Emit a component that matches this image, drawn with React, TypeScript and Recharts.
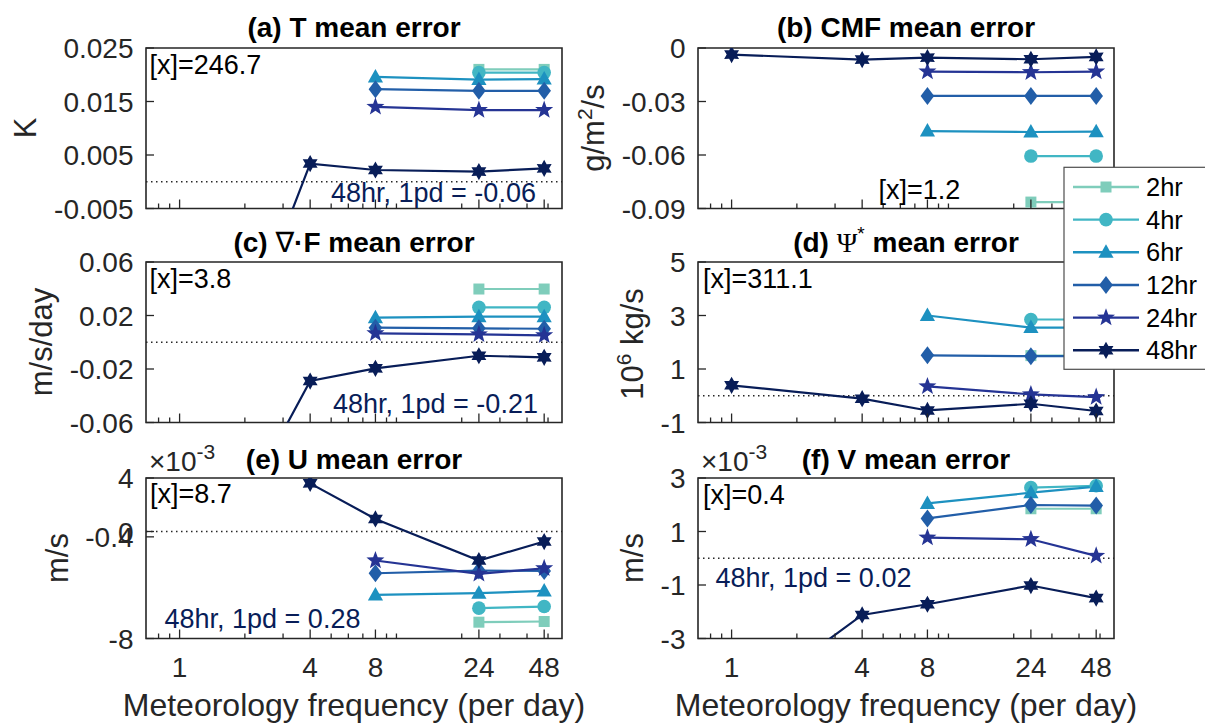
import React from 'react';
import { LineChart, Line, XAxis, YAxis, ReferenceLine, ReferenceArea } from 'recharts';

const FONT = '"Liberation Sans", Arial, Helvetica, sans-serif';
const AX = '#262626';

// ---------- shared axis data ----------
const FREQ = [1, 4, 8, 24, 48];
const X_MAJOR = [1, 4, 8, 24, 48];
const X_TICKS = [0.8, 0.9, 1, 2, 3, 4, 5, 6, 7, 8, 9, 10, 20, 24, 30, 40, 48, 50];
const X_DOMAIN: [number, number] = [0.7, 58];

const SERIES_NAMES = ['2hr', '4hr', '6hr', '12hr', '24hr', '48hr'];
const SERIES_COLORS = ['#7fcdbb', '#41b6c4', '#1d91c0', '#225ea8', '#253494', '#081d58'];
const SERIES_MARKERS = ['square', 'circle', 'triangle', 'diamond', 'pentagram', 'hexagram'];

// ---------- (a) T mean error ----------
const T_2HR = [null, null, null, 0.021, 0.021];
const T_4HR = [null, null, null, 0.0204, 0.0204];
const T_6HR = [null, null, 0.0196, 0.0191, 0.0192];
const T_12HR = [null, null, 0.0173, 0.017, 0.017];
const T_24HR = [null, null, 0.014, 0.0134, 0.0134];
const T_48HR = [-0.06, 0.0034, 0.0022, 0.0019, 0.0025];
const T_TICKS = [-0.005, 0.005, 0.015, 0.025];

// ---------- (b) CMF mean error ----------
const CMF_2HR = [null, null, null, -0.0864, -0.0864];
const CMF_4HR = [null, null, null, -0.0606, -0.0606];
const CMF_6HR = [null, null, -0.0466, -0.0471, -0.0469];
const CMF_12HR = [null, null, -0.0269, -0.0269, -0.0269];
const CMF_24HR = [null, null, -0.0132, -0.0136, -0.0132];
const CMF_48HR = [-0.0037, -0.0065, -0.0054, -0.0063, -0.005];
const CMF_TICKS = [-0.09, -0.06, -0.03, 0];

// ---------- (c) div F mean error ----------
const DIVF_2HR = [null, null, null, 0.0398, 0.0398];
const DIVF_4HR = [null, null, null, 0.0261, 0.0261];
const DIVF_6HR = [null, null, 0.0184, 0.0191, 0.0191];
const DIVF_12HR = [null, null, 0.0109, 0.0104, 0.0101];
const DIVF_24HR = [null, null, 0.0067, 0.0059, 0.0052];
const DIVF_48HR = [-0.21, -0.029, -0.0195, -0.0101, -0.0113];
const DIVF_TICKS = [-0.06, -0.02, 0.02, 0.06];

// ---------- (d) Psi* mean error ----------
const PSI_2HR = [null, null, null, 1.5, 1.5];
const PSI_4HR = [null, null, null, 2.85, 2.85];
const PSI_6HR = [null, null, 3.0, 2.55, 2.55];
const PSI_12HR = [null, null, 1.51, 1.48, 1.48];
const PSI_24HR = [null, null, 0.35, 0.05, -0.05];
const PSI_48HR = [0.39, -0.11, -0.55, -0.3, -0.57];
const PSI_TICKS = [-1, 1, 3, 5];

// ---------- (e) U mean error (x1e-3) ----------
const U_2HR = [null, null, null, -6.78, -6.73];
const U_4HR = [null, null, null, -5.73, -5.61];
const U_6HR = [null, null, -4.74, -4.61, -4.44];
const U_12HR = [null, null, -3.12, -2.92, -2.95];
const U_24HR = [null, null, -2.17, -3.17, -2.75];
const U_48HR = [280, 3.6, 0.94, -2.17, -0.75];
const U_TICKS = [-8, -0.4, 0, 4];

// ---------- (f) V mean error (x1e-3) ----------
const V_2HR = [null, null, null, 1.85, 1.85];
const V_4HR = [null, null, null, 2.64, 2.71];
const V_6HR = [null, null, 2.05, 2.45, 2.68];
const V_12HR = [null, null, 1.49, 1.99, 1.97];
const V_24HR = [null, null, 0.77, 0.71, 0.09];
const V_48HR = [-5.7, -2.12, -1.72, -1.02, -1.49];
const V_TICKS = [-3, -1, 1, 3];

// ---------- layout ----------
const LEFT_X = 146;
const RIGHT_X = 698;
const BOX_W = 416;
const BOX_H = 160.5;
const ROW_Y = [48, 262, 478];

type PanelDef = {
  left: number;
  top: number;
  series: (number | null)[][];
  ticks: number[];
  zero: boolean;
  xLabels: boolean;
};

const PANELS: PanelDef[] = [
  { left: LEFT_X, top: ROW_Y[0], series: [T_2HR, T_4HR, T_6HR, T_12HR, T_24HR, T_48HR], ticks: T_TICKS, zero: true, xLabels: false },
  { left: RIGHT_X, top: ROW_Y[0], series: [CMF_2HR, CMF_4HR, CMF_6HR, CMF_12HR, CMF_24HR, CMF_48HR], ticks: CMF_TICKS, zero: false, xLabels: false },
  { left: LEFT_X, top: ROW_Y[1], series: [DIVF_2HR, DIVF_4HR, DIVF_6HR, DIVF_12HR, DIVF_24HR, DIVF_48HR], ticks: DIVF_TICKS, zero: true, xLabels: false },
  { left: RIGHT_X, top: ROW_Y[1], series: [PSI_2HR, PSI_4HR, PSI_6HR, PSI_12HR, PSI_24HR, PSI_48HR], ticks: PSI_TICKS, zero: true, xLabels: false },
  { left: LEFT_X, top: ROW_Y[2], series: [U_2HR, U_4HR, U_6HR, U_12HR, U_24HR, U_48HR], ticks: U_TICKS, zero: true, xLabels: true },
  { left: RIGHT_X, top: ROW_Y[2], series: [V_2HR, V_4HR, V_6HR, V_12HR, V_24HR, V_48HR], ticks: V_TICKS, zero: true, xLabels: true },
];

function buildRows(cols: (number | null)[][]) {
  return FREQ.map((x, i) => {
    const row: Record<string, number | null> = { x };
    cols.forEach((c, k) => {
      row['s' + k] = c[i];
    });
    return row;
  });
}

function starPoints(cx: number, cy: number, n: number, R: number, r: number) {
  const pts: string[] = [];
  for (let i = 0; i < 2 * n; i++) {
    const a = -Math.PI / 2 + (i * Math.PI) / n;
    const rad = i % 2 === 0 ? R : r;
    pts.push(`${cx + rad * Math.cos(a)},${cy + rad * Math.sin(a)}`);
  }
  return pts.join(' ');
}

function Marker({ shape, cx, cy, color }: { shape: string; cx: number; cy: number; color: string }) {
  switch (shape) {
    case 'square':
      return <rect x={cx - 5.5} y={cy - 5.5} width={11} height={11} fill={color} />;
    case 'circle':
      return <circle cx={cx} cy={cy} r={6.8} fill={color} />;
    case 'triangle':
      return <polygon points={`${cx},${cy - 8} ${cx + 7.6},${cy + 5.5} ${cx - 7.6},${cy + 5.5}`} fill={color} />;
    case 'diamond':
      return <polygon points={`${cx},${cy - 9} ${cx + 6.8},${cy} ${cx},${cy + 9} ${cx - 6.8},${cy}`} fill={color} />;
    case 'pentagram':
      return <polygon points={starPoints(cx, cy, 5, 9.5, 3.9)} fill={color} />;
    default:
      return <polygon points={starPoints(cx, cy, 6, 8.6, 4.9)} fill={color} />;
  }
}

const makeDot = (shape: string, color: string) => (props: any) => {
  const { cx, cy, index, value } = props;
  if (cx == null || cy == null || value == null || Number.isNaN(cy)) return <g key={`d-${index}`} />;
  return (
    <g key={`d-${index}`}>
      <Marker shape={shape} cx={cx} cy={cy} color={color} />
    </g>
  );
};

const XTick = (props: any) => {
  const { x, y, payload, showLabel } = props;
  const v = payload.value;
  const major = X_MAJOR.includes(v);
  return (
    <g>
      <line x1={x} x2={x} y1={y} y2={y - (major ? 9 : 5)} stroke={AX} strokeWidth={1.3} />
      {showLabel && major && (
        <text x={x} y={y + 38.5} textAnchor="middle" fontSize={28} fontFamily={FONT} fill={AX}>
          {String(v)}
        </text>
      )}
    </g>
  );
};

const YTick = (props: any) => {
  const { x, y, payload } = props;
  return (
    <g>
      <line x1={x} x2={x + 8} y1={y} y2={y} stroke={AX} strokeWidth={1.3} />
      <text x={x - 12.5} y={y + 10} textAnchor="end" fontSize={28} fontFamily={FONT} fill={AX}>
        {String(payload.value)}
      </text>
    </g>
  );
};

function Panel({ p }: { p: PanelDef }) {
  const rows = buildRows(p.series);
  const yMin = p.ticks[0];
  const yMax = p.ticks[p.ticks.length - 1];
  return (
    <div style={{ position: 'absolute', left: p.left - 110, top: p.top - 50 }}>
      <LineChart width={BOX_W + 140} height={BOX_H + 140} data={rows} margin={{ top: 50, right: 30, bottom: 10, left: 10 }}>
        <XAxis
          dataKey="x"
          type="number"
          scale="log"
          domain={X_DOMAIN}
          ticks={X_TICKS}
          interval={0}
          allowDataOverflow
          tickLine={false}
          axisLine={false}
          tickSize={0}
          tickMargin={0}
          height={80}
          tick={(tp: any) => <XTick {...tp} showLabel={p.xLabels} />}
        />
        <YAxis
          type="number"
          domain={[yMin, yMax]}
          ticks={p.ticks}
          interval={0}
          allowDataOverflow
          tickLine={false}
          axisLine={false}
          tickSize={0}
          tickMargin={0}
          width={100}
          tick={(tp: any) => <YTick {...tp} />}
        />
        <ReferenceArea
          x1={X_DOMAIN[0]}
          x2={X_DOMAIN[1]}
          y1={yMin}
          y2={yMax}
          fill="none"
          fillOpacity={0}
          stroke={AX}
          strokeWidth={1.6}
          ifOverflow="visible"
        />
        {p.zero && <ReferenceLine y={0} stroke={AX} strokeWidth={1.3} strokeDasharray="1.5 3.5" />}
        {p.series.map((_, k) => (
          <Line
            key={SERIES_NAMES[k]}
            dataKey={'s' + k}
            type="linear"
            stroke={SERIES_COLORS[k]}
            strokeWidth={2.2}
            dot={makeDot(SERIES_MARKERS[k], SERIES_COLORS[k])}
            activeDot={false}
            isAnimationActive={false}
          />
        ))}
      </LineChart>
    </div>
  );
}

const ANNOT_COLOR = '#081d58';

function Overlay() {
  const tStyle = { fontFamily: FONT, fontWeight: 700 as const, fontSize: 28, fill: '#000' };
  const aStyle = { fontFamily: FONT, fontSize: 27, fill: '#000' };
  const nStyle = { fontFamily: FONT, fontSize: 27, fill: ANNOT_COLOR };
  const yl = { fontFamily: FONT, fontSize: 31, fill: AX };
  const lcx = LEFT_X + BOX_W / 2;
  const rcx = RIGHT_X + BOX_W / 2;
  return (
    <svg width={1205} height={724} style={{ position: 'absolute', left: 0, top: 0, pointerEvents: 'none' }}>
      {/* titles */}
      <text x={lcx} y={37} textAnchor="middle" style={tStyle}>(a) T mean error</text>
      <text x={rcx} y={37} textAnchor="middle" style={tStyle}>(b) CMF mean error</text>
      <text x={lcx} y={252} textAnchor="middle" style={tStyle}>
        (c) <tspan fontFamily='"DejaVu Sans", sans-serif' fontWeight={400}>∇</tspan>·F mean error
      </text>
      <text x={rcx} y={252} textAnchor="middle" style={tStyle}>
        (d) <tspan fontFamily='"Liberation Serif", serif' fontWeight={400}>Ψ</tspan>
        <tspan fontSize={19} fontWeight={400} dy={-12}>*</tspan>
        <tspan dy={12}> mean error</tspan>
      </text>
      <text x={lcx} y={469} textAnchor="middle" style={tStyle}>(e) U mean error</text>
      <text x={rcx} y={469} textAnchor="middle" style={tStyle}>(f) V mean error</text>

      {/* x10^-3 multipliers */}
      <text x={149} y={471} style={{ fontFamily: FONT, fontSize: 28, fill: AX }}>
        ×10<tspan fontSize={21} dy={-12}>-3</tspan>
      </text>
      <text x={701} y={471} style={{ fontFamily: FONT, fontSize: 28, fill: AX }}>
        ×10<tspan fontSize={21} dy={-12}>-3</tspan>
      </text>

      {/* y labels */}
      <text transform="translate(36,128) rotate(-90)" textAnchor="middle" style={yl}>K</text>
      <text transform="translate(604,128) rotate(-90)" textAnchor="middle" style={yl}>
        g/m<tspan fontSize={21} dy={-12}>2</tspan><tspan dy={12}>/s</tspan>
      </text>
      <text transform="translate(52,342) rotate(-90)" textAnchor="middle" style={yl}>m/s/day</text>
      <text transform="translate(643,344) rotate(-90)" textAnchor="middle" style={yl}>
        10<tspan fontSize={21} dy={-12}>6</tspan><tspan dy={12}> kg/s</tspan>
      </text>
      <text transform="translate(68,558) rotate(-90)" textAnchor="middle" style={yl}>m/s</text>
      <text transform="translate(643,558) rotate(-90)" textAnchor="middle" style={yl}>m/s</text>

      {/* x labels */}
      <text x={lcx} y={716} textAnchor="middle" style={{ fontFamily: FONT, fontSize: 32, fill: AX }}>
        Meteorology frequency (per day)
      </text>
      <text x={rcx} y={716} textAnchor="middle" style={{ fontFamily: FONT, fontSize: 32, fill: AX }}>
        Meteorology frequency (per day)
      </text>

      {/* annotations */}
      <text x={149.5} y={74} style={aStyle}>[x]=246.7</text>
      <text x={331} y={201.5} style={nStyle}>48hr, 1pd = -0.06</text>
      <text x={878.5} y={199} style={aStyle}>[x]=1.2</text>
      <text x={149.5} y={288} style={aStyle}>[x]=3.8</text>
      <text x={333} y={413} style={nStyle}>48hr, 1pd = -0.21</text>
      <text x={703} y={288} style={aStyle}>[x]=311.1</text>
      <text x={150} y={503} style={aStyle}>[x]=8.7</text>
      <text x={164.5} y={628} style={nStyle}>48hr, 1pd = 0.28</text>
      <text x={703} y={504} style={aStyle}>[x]=0.4</text>
      <text x={715.5} y={586.5} style={nStyle}>48hr, 1pd = 0.02</text>

      {/* legend */}
      <rect x={1064} y={167.3} width={160} height={202} fill="#fff" stroke="#4d4d4d" strokeWidth={1.2} />
      {SERIES_NAMES.map((name, i) => {
        const y = 187 + i * 32.66;
        return (
          <g key={name}>
            <line x1={1073} x2={1139} y1={y} y2={y} stroke={SERIES_COLORS[i]} strokeWidth={2.4} />
            <Marker shape={SERIES_MARKERS[i]} cx={1106} cy={y} color={SERIES_COLORS[i]} />
            <text x={1146} y={y + 9} style={{ fontFamily: FONT, fontSize: 25.5, fill: '#000' }}>{name}</text>
          </g>
        );
      })}
    </svg>
  );
}

export default function App() {
  return (
    <div style={{ position: 'absolute', left: 0, top: 0, width: 1205, height: 724, background: '#fff', overflow: 'hidden' }}>
      {PANELS.map((p, i) => (
        <Panel key={i} p={p} />
      ))}
      <Overlay />
    </div>
  );
}
